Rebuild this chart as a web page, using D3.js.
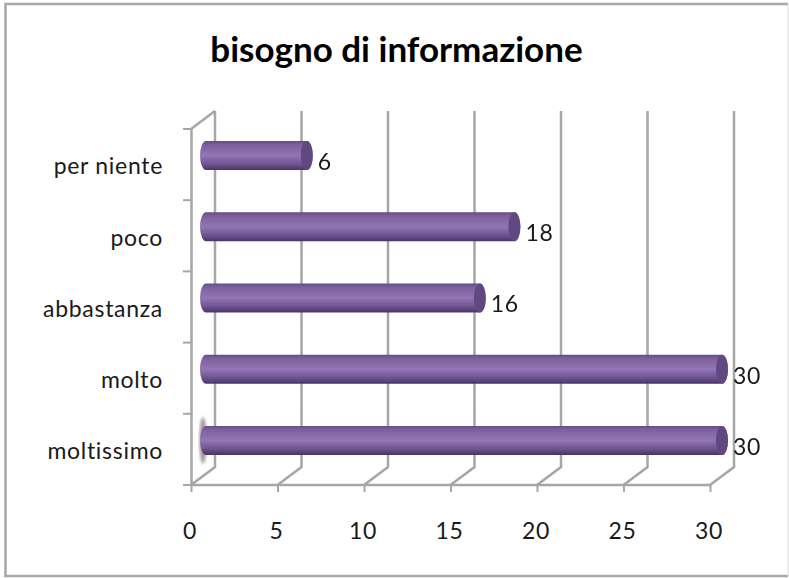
<!DOCTYPE html>
<html>
<head>
<meta charset="utf-8">
<script src="https://cdn.jsdelivr.net/npm/d3@7"></script>
<style>
  html, body { margin: 0; padding: 0; background: #fff; }
  svg { display: block; }
  text { font-family: Lato, "Open Sans", sans-serif; fill: #1a1a1a; }
  .title { font-weight: 700; font-size: 35px; fill: #000; }
  .lab { font-size: 23px; letter-spacing: 0.7px; }
</style>
</head>
<body>
<svg class="chart"></svg>
<script>
// bottom to top, same order as the excel sheet
const categories = ['moltissimo', 'molto', 'abbastanza', 'poco', 'per niente'];
const values = [30, 30, 16, 18, 6];
const xTicks = [0, 5, 10, 15, 20, 25, 30];
const title = 'bisogno di informazione';

const width = 789, height = 578;
const depth = { x: 24, y: -18 };
const floor = { left: 191, right: 710, top: 129, bottom: 485 };
const barH = 29;
const capR = 6;

const svg = d3.select('.chart').attr('width', width).attr('height', height);

const defs = svg.append('defs');
const grad = defs.append('linearGradient')
  .attr('id', 'tube').attr('x1', 0).attr('x2', 0).attr('y1', 0).attr('y2', 1);
[[0, '#644c82'], [0.12, '#7a609c'], [0.5, '#9475b5'], [0.8, '#6c5390'], [1, '#4a3465']].forEach(s => {
  grad.append('stop').attr('offset', s[0]).attr('stop-color', s[1]);
});
// the source is a resized screenshot, everything is a bit soft
defs.append('filter').attr('id', 'soft')
  .append('feGaussianBlur').attr('stdDeviation', 0.6);
defs.append('filter').attr('id', 'softer')
  .append('feGaussianBlur').attr('stdDeviation', 1.5);

// frame: right side is much lighter than the others
svg.append('path')
  .attr('d', 'M788,4H5.5V576H788')
  .attr('fill', 'none').attr('stroke', '#a8a8a8').attr('stroke-width', 2.5);
svg.append('line')
  .attr('x1', 788).attr('x2', 788).attr('y1', 4).attr('y2', 576)
  .attr('stroke', '#dcdcdc').attr('stroke-width', 1);

svg.append('text').attr('class', 'title')
  .attr('x', 396.5).attr('y', 62).attr('text-anchor', 'middle').text(title);

const x = d3.scaleLinear().domain([0, 30]).range([floor.left, floor.right]);
const y = d3.scaleBand().domain(categories).range([floor.bottom, floor.top]);

const wall = svg.append('g')
  .attr('filter', 'url(#soft)')
  .attr('fill', 'none').attr('stroke', '#a6a6a6').attr('stroke-width', 2.5);

// gridlines on the back wall + the slanted bit on the floor
xTicks.forEach(t => {
  wall.append('path').attr('d', d3.line()([
    [x(t), floor.bottom],
    [x(t) + depth.x, floor.bottom + depth.y],
    [x(t) + depth.x, floor.top + depth.y]
  ]));
});
wall.append('path').attr('d', d3.line()([
  [floor.left, floor.top],
  [floor.left + depth.x, floor.top + depth.y]
]));

const axisLeft = d3.axisLeft(y).tickSize(0).tickPadding(0).tickFormat(d => d);
const yAxis = svg.append('g').attr('transform', `translate(${floor.left},0)`).call(axisLeft);
yAxis.select('.domain').attr('stroke', '#a6a6a6').attr('stroke-width', 2.5);
yAxis.selectAll('text').attr('class', 'lab')
  .attr('x', -28).attr('y', 2.5).attr('dy', '0.32em').attr('text-anchor', 'end');

// excel puts the y ticks between categories
const yEdges = categories.map(c => y(c)).concat([floor.bottom]);
svg.append('g').selectAll('line').data(yEdges).join('line')
  .attr('x1', floor.left - 8).attr('x2', floor.left)
  .attr('y1', d => d).attr('y2', d => d)
  .attr('stroke', '#a6a6a6').attr('stroke-width', 2);

const axisBottom = d3.axisBottom(x).tickValues(xTicks).tickSize(7).tickPadding(31);
const xAxis = svg.append('g').attr('transform', `translate(0,${floor.bottom})`).call(axisBottom);
xAxis.select('.domain').attr('stroke', '#a6a6a6').attr('stroke-width', 2.5).attr('d', `M${floor.left},0H${floor.right}`);
xAxis.selectAll('line').attr('stroke', '#a6a6a6').attr('stroke-width', 2);
xAxis.selectAll('text').attr('class', 'lab').attr('dx', -1.5);

// small shadow behind the lowest bar
const lowY = y(categories[0]) + y.bandwidth() / 2 - 9;
svg.append('ellipse')
  .attr('cx', floor.left + 12).attr('cy', lowY)
  .attr('rx', 3.5).attr('ry', barH / 2 + 9)
  .attr('fill', '#999').attr('filter', 'url(#softer)');

const bars = svg.append('g').attr('filter', 'url(#soft)')
  .selectAll('g').data(categories).join('g')
  .attr('transform', d => `translate(0,${y(d) + y.bandwidth() / 2 - 9})`);

bars.append('path')
  .attr('fill', 'url(#tube)')
  .attr('d', (d, i) => {
    const x0 = x(0) + 15, x1 = x(values[i]) + 12;
    return `M${x0},${-barH / 2}H${x1}A${capR},${barH / 2} 0 0 1 ${x1},${barH / 2}H${x0}A${capR},${barH / 2} 0 0 1 ${x0},${-barH / 2}Z`;
  });

bars.append('ellipse')
  .attr('cx', (d, i) => x(values[i]) + 12)
  .attr('rx', capR).attr('ry', barH / 2)
  .attr('fill', '#5f4880');

svg.append('g').selectAll('text').data(categories).join('text').attr('class', 'lab')
  .attr('x', (d, i) => x(values[i]) + 23)
  .attr('y', d => y(d) + y.bandwidth() / 2 - 2).attr('dy', '0.32em')
  .attr('text-anchor', 'start')
  .text((d, i) => values[i]);
</script>
</body>
</html>
